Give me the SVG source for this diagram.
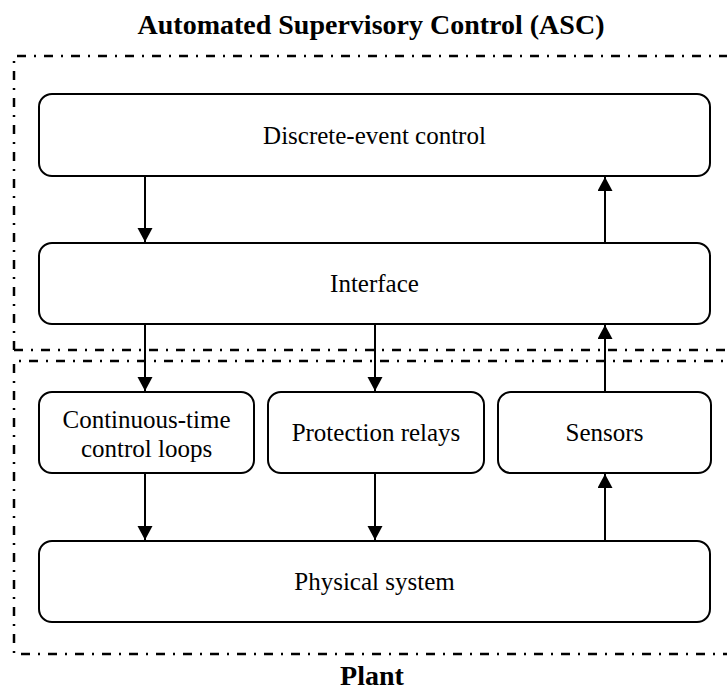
<svg xmlns="http://www.w3.org/2000/svg" width="727" height="691" viewBox="0 0 727 691">
<style>
  .box { fill: #fff; stroke: #000; stroke-width: 2; }
  .lbl { font-family: "Liberation Serif", "Times New Roman", serif; font-size: 25px; fill: #000; text-anchor: middle; }
  .ttl { font-family: "Liberation Serif", "Times New Roman", serif; font-size: 28px; font-weight: bold; fill: #000; text-anchor: middle; }
  .frame { fill: none; stroke: #000; stroke-width: 2.5; stroke-dasharray: 9 8 2 8; }
  .conn { stroke: #000; stroke-width: 2; fill: none; marker-end: url(#ah); }
</style>
<defs>
  <marker id="ah" markerUnits="userSpaceOnUse" markerWidth="16" markerHeight="16" refX="14" refY="7.5" orient="auto">
    <path d="M0,0 L14,7.5 L0,15 Z" fill="#000"/>
  </marker>
</defs>
<rect width="727" height="691" fill="#fff"/>
<g id="asc-frame">
  <path class="frame" d="M14,350 L14,56 L740,56 M14,350 L740,350"/>
  <text class="ttl" x="371" y="34">Automated Supervisory Control (ASC)</text>
</g>
<g id="plant-frame">
  <path class="frame" d="M740,361 L14,361 L14,654 L740,654"/>
  <text class="ttl" x="372" y="685">Plant</text>
</g>

<g id="discrete">
  <rect class="box" x="39" y="94" width="671" height="82" rx="13"/>
  <text class="lbl" x="374.5" y="144">Discrete-event control</text>
</g>
<g id="interface">
  <rect class="box" x="39" y="243" width="671" height="81" rx="13"/>
  <text class="lbl" x="374.5" y="292">Interface</text>
</g>
<g id="continuous">
  <rect class="box" x="39" y="392" width="215" height="81" rx="13"/>
  <text class="lbl" x="146.5" y="428">Continuous-time</text>
  <text class="lbl" x="146.5" y="457">control loops</text>
</g>
<g id="protection">
  <rect class="box" x="268" y="392" width="216" height="81" rx="13"/>
  <text class="lbl" x="376" y="441">Protection relays</text>
</g>
<g id="sensors">
  <rect class="box" x="498" y="392" width="213" height="81" rx="13"/>
  <text class="lbl" x="604.5" y="441">Sensors</text>
</g>
<g id="physical">
  <rect class="box" x="39" y="541" width="671" height="81" rx="13"/>
  <text class="lbl" x="374.5" y="590">Physical system</text>
</g>
<g id="connectors">
  <line class="conn" x1="145" y1="177" x2="145" y2="242"/>
  <line class="conn" x1="605" y1="242" x2="605" y2="177"/>
  <line class="conn" x1="145" y1="325" x2="145" y2="391"/>
  <line class="conn" x1="375" y1="325" x2="375" y2="391"/>
  <line class="conn" x1="605" y1="391" x2="605" y2="325"/>
  <line class="conn" x1="145" y1="474" x2="145" y2="540"/>
  <line class="conn" x1="375" y1="474" x2="375" y2="540"/>
  <line class="conn" x1="605" y1="540" x2="605" y2="474"/>
</g>
</svg>
